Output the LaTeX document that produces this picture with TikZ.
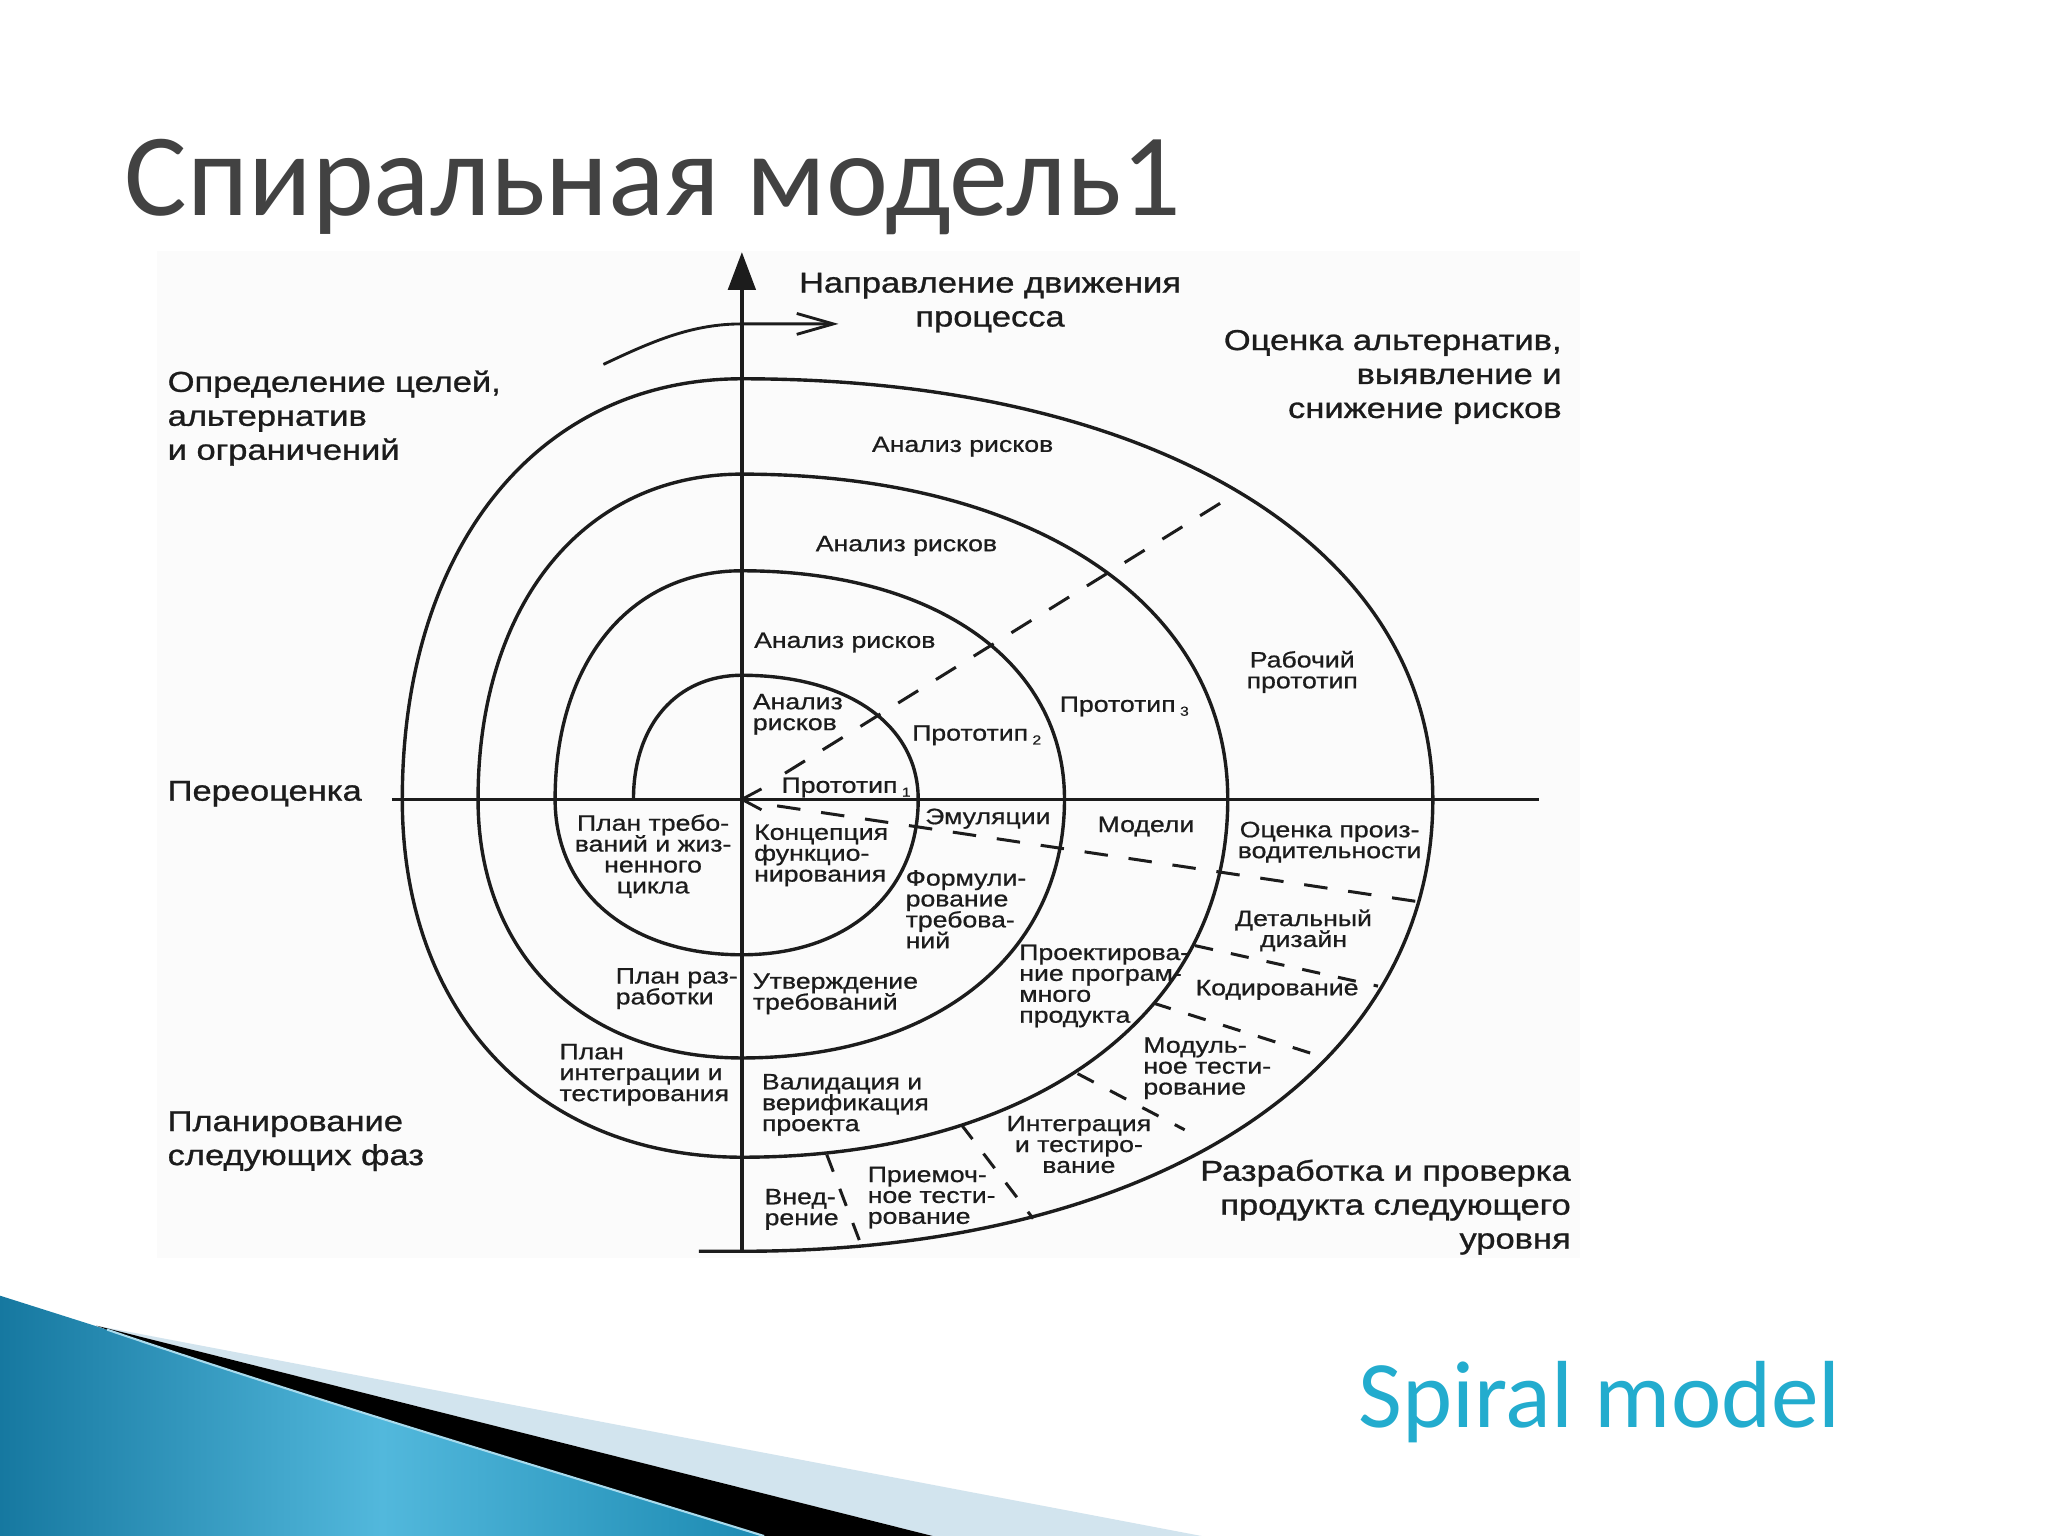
\documentclass[tikz,border=0pt]{standalone}
\usepackage{fontspec}
\usepackage{graphicx}
\setmainfont{Liberation Sans}
\newfontfamily\diagfontA{Liberation Sans}[FakeBold=0.9]
\newfontfamily\diagfontB{Liberation Sans}[FakeBold=0.7]
\newfontfamily\titlefont{Carlito}
\usetikzlibrary{arrows.meta}
\definecolor{ink}{HTML}{1C1C1C}
\definecolor{titlegray}{HTML}{424242}
\definecolor{spiralteal}{RGB}{35,172,206}
\definecolor{bluedark}{RGB}{22,120,160}
\definecolor{bluelight}{RGB}{82,184,220}
\definecolor{bluemid}{RGB}{28,138,178}
\definecolor{bandlight}{RGB}{210,228,238}
\newcommand\txL[1]{\scalebox{1.2}[1]{\vtop{\lineskiplimit=-100pt\lineskip=0pt\halign{##\hfil\cr#1\crcr}}}}
\newcommand\txC[1]{\scalebox{1.2}[1]{\vtop{\lineskiplimit=-100pt\lineskip=0pt\halign{\hfil##\hfil\cr#1\crcr}}}}
\newcommand\txR[1]{\scalebox{1.2}[1]{\vtop{\lineskiplimit=-100pt\lineskip=0pt\halign{\hfil##\cr#1\crcr}}}}
\newcommand\subdig[1]{\,\raisebox{-1.5pt}{\fontsize{5}{5}\selectfont #1}}
\begin{document}
\begin{tikzpicture}[x=0.5pt,y=-0.5pt,
  lblA/.style={inner sep=0pt, font=\diagfontA\fontsize{11}{13}\selectfont, text=ink},
  lblB/.style={inner sep=0pt, font=\diagfontB\fontsize{8.5}{8}\selectfont, text=ink},
  spiralline/.style={draw=ink, line width=1.3pt, line join=round},
  axisline/.style={draw=ink, line width=1.4pt},
  thinline/.style={draw=ink, line width=1.1pt},
  dashline/.style={draw=ink, line width=1.15pt, dash pattern=on 9pt off 8pt},
  shortdash/.style={draw=ink, line width=1.15pt, dash pattern=on 7pt off 7pt},
]
\useasboundingbox (0,0) rectangle (1568,1176);
\fill[white] (0,0) rectangle (1568,1176);
% scanned diagram panel
\fill[black!1.5] (120,192) rectangle (1210,963);

% bottom-left swoosh
\shade[left color=bluedark, right color=bluemid, middle color=bluelight]
  (0,992) -- (82,1018) .. controls (250,1075) and (420,1125) .. (585,1176) -- (0,1176) -- cycle;
\fill[bandlight] (74,1015) -- (920,1176) -- (714,1176) -- cycle;
\fill[black] (74,1015) -- (714,1176) -- (585,1176) .. controls (420,1125) and (250,1075) .. (82,1018) -- cycle;
\draw[line width=0.8pt, draw=bluelight!50!white] (82,1018) .. controls (250,1075) and (420,1125) .. (585,1176);

% title and subtitle
\node[anchor=base west, inner sep=0pt, font=\titlefont\fontsize{45}{54}\selectfont, text=titlegray] (title) at (95,165) {Спиральная модель1};
\node[anchor=base west, inner sep=0pt, font=\titlefont\fontsize{36.5}{43}\selectfont, text=spiralteal] (subtitle) at (1040,1093) {Spiral model};

% axes
\coordinate (O) at (568,612);
\coordinate (vbot) at (568,958);
\coordinate (vtop) at (568,193);
\coordinate (hl) at (300,612);
\coordinate (hr) at (1178,612);
\draw[axisline, -{Triangle[length=14.5pt,width=10.5pt]}] (vbot) -- (vtop);
\draw[axisline] (hl) -- (hr);
\draw[thinline] (583,604) -- (O) -- (583,620);

% direction of process arrow
\coordinate (da) at (462,279);
\coordinate (db) at (642,248);
\draw[thinline, -{Straight Barb[length=14pt,width=8pt]}] (da) .. controls (500,261) and (530,248) .. (568,248) -- (db);

% spiral
\draw[spiralline] (485,612)
 .. controls (485,555) and (518.2,517) .. (568,517)
 .. controls (649,517) and (703,555) .. (703,612)
 .. controls (703,683.4) and (649,731) .. (568,731)
 .. controls (482.2,731) and (425,683.4) .. (425,612)
 .. controls (425,507) and (482.2,437) .. (568,437)
 .. controls (716.2,437) and (815,507) .. (815,612)
 .. controls (815,730.8) and (716.2,810) .. (568,810)
 .. controls (446.8,810) and (366,730.8) .. (366,612)
 .. controls (366,462.6) and (446.8,363) .. (568,363)
 .. controls (791.2,363) and (940,462.6) .. (940,612)
 .. controls (940,776.4) and (791.2,886) .. (568,886)
 .. controls (412,886) and (308,776.4) .. (308,612)
 .. controls (308,418.8) and (412,290) .. (568,290)
 .. controls (885.4,290) and (1097,418.8) .. (1097,612)
 .. controls (1097,819.6) and (885.4,958) .. (568,958)
 -- (535,958);

% dashed sector lines
\draw[dashline] (601,592) -- (946,378);
\draw[dashline] (595,617) -- (1090,691);
\draw[shortdash] (915,724) -- (1055,755);
\draw[shortdash] (883,768) -- (1015,810);
\draw[shortdash] (825,822) -- (907,865);
\draw[shortdash] (736,861) -- (791,933);
\draw[shortdash] (633,884) -- (660,955);

% outer labels
\node[lblA, anchor=base west] (goals) at (128,300) {\txL{Определение целей,\cr альтернатив\cr и ограничений}};
\node[lblA, anchor=base] (direction) at (758,224) {\txC{Направление движения\cr процесса}};
\node[lblA, anchor=base east] (evaluate) at (1196,268) {\txR{Оценка альтернатив,\cr выявление и\cr снижение рисков}};
\node[lblA, anchor=base west] (reeval) at (128,613) {\txL{Переоценка}};
\node[lblA, anchor=base west] (planning) at (128,866) {\txL{Планирование\cr следующих фаз}};
\node[lblA, anchor=base east] (develop) at (1203,904) {\txR{Разработка и проверка\cr продукта следующего\cr уровня}};

% inner labels
\node[lblB, anchor=base] (risk4) at (737,346) {\txC{Анализ рисков}};
\node[lblB, anchor=base] (risk3) at (694,422) {\txC{Анализ рисков}};
\node[lblB, anchor=base west] (risk2) at (577,496) {\txL{Анализ рисков}};
\node[lblB, anchor=base west] (risk1) at (576,543) {\txL{Анализ\cr рисков}};
\node[lblB, anchor=base west] (proto1) at (598,607) {\txL{Прототип\subdig{1}}};
\node[lblB, anchor=base west] (proto2) at (698,567) {\txL{Прототип\subdig{2}}};
\node[lblB, anchor=base west] (proto3) at (811,545) {\txL{Прототип\subdig{3}}};
\node[lblB, anchor=base] (workproto) at (997,511) {\txC{Рабочий\cr прототип}};
\node[lblB, anchor=base] (reqplan) at (500,636) {\txC{План требо-\cr ваний и жиз-\cr ненного\cr цикла}};
\node[lblB, anchor=base west] (concept) at (577,643) {\txL{Концепция\cr функцио-\cr нирования}};
\node[lblB, anchor=base west] (emul) at (708,631) {\txL{Эмуляции}};
\node[lblB, anchor=base west] (models) at (840,637) {\txL{Модели}};
\node[lblB, anchor=base] (perf) at (1018,641) {\txC{Оценка произ-\cr водительности}};
\node[lblB, anchor=base west] (reqform) at (693,678) {\txL{Формули-\cr рование\cr требова-\cr ний}};
\node[lblB, anchor=base] (detail) at (998,709) {\txC{Детальный\cr дизайн}};
\node[lblB, anchor=base west] (design) at (780,735) {\txL{Проектирова-\cr ние програм-\cr много\cr продукта}};
\node[lblB, anchor=base west] (coding) at (915,762) {\txL{Кодирование}};
\node[lblB, anchor=base west] (devplan) at (471,753) {\txL{План раз-\cr работки}};
\node[lblB, anchor=base west] (reqok) at (576,757) {\txL{Утверждение\cr требований}};
\node[lblB, anchor=base west] (intplan) at (428,811) {\txL{План\cr интеграции и\cr тестирования}};
\node[lblB, anchor=base west] (unittest) at (875,806) {\txL{Модуль-\cr ное тести-\cr рование}};
\node[lblB, anchor=base west] (valid) at (583,834) {\txL{Валидация и\cr верификация\cr проекта}};
\node[lblB, anchor=base] (integ) at (826,866) {\txC{Интеграция\cr и тестиро-\cr вание}};
\node[lblB, anchor=base west] (accept) at (664,905) {\txL{Приемоч-\cr ное тести-\cr рование}};
\node[lblB, anchor=base west] (deploy) at (585,922) {\txL{Внед-\cr рение}};
\end{tikzpicture}
\end{document}
